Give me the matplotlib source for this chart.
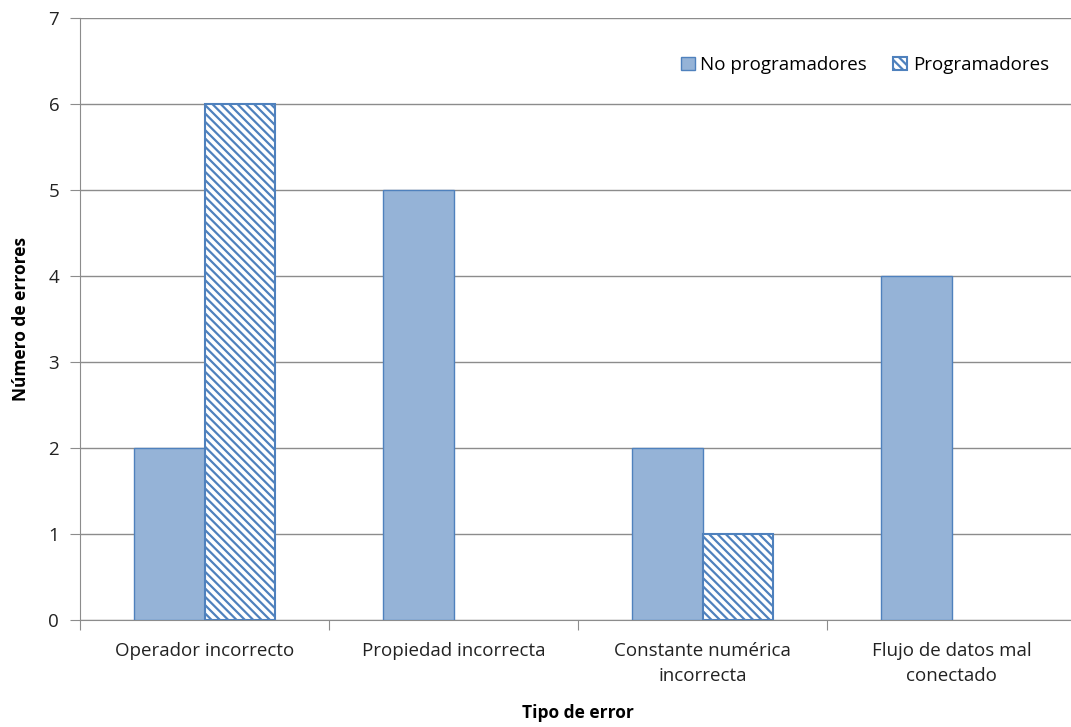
import matplotlib.pyplot as plt
import numpy as np

# error categories and counts per group
categorias = ['Operador incorrecto', 'Propiedad incorrecta',
              'Constante numérica\nincorrecta', 'Flujo de datos mal\nconectado']
no_programadores = [2, 5, 2, 4]
programadores = [6, 0, 1, 0]

plt.rcParams['font.family'] = ['Open Sans', 'DejaVu Sans']
plt.rcParams['hatch.color'] = '#4F81BD'
plt.rcParams['hatch.linewidth'] = 1.6

fig = plt.figure(figsize=(10.71, 7.27), dpi=100)
ax = fig.add_axes([0.0747, 0.1472, 0.93, 0.828])

x = np.arange(len(categorias))
w = 0.283
edge = '#4F81BD'
ax.bar(x - w / 2, no_programadores, w, color='#95B3D7',
       edgecolor=[edge if v else 'none' for v in no_programadores],
       linewidth=1, label='No programadores', zorder=3)
ax.bar(x + w / 2, programadores, w, color='white',
       edgecolor=[edge if v else 'none' for v in programadores],
       linewidth=1.5, hatch='\\\\\\\\', label='Programadores', zorder=3)

ax.set_xlim(-0.5, 3.5)
ax.set_ylim(0, 7)
ax.set_yticks(range(8))
ax.grid(axis='y', color='#8C8C8C', linewidth=1, zorder=0)

# category labels between boundary ticks
ax.set_xticks(np.arange(-0.5, 4, 1))
ax.set_xticklabels([])
ax.set_xticks(x, minor=True)
ax.set_xticklabels(categorias, minor=True, fontsize=13.5, color='#222222',
                   linespacing=1.45)
ax.tick_params(axis='x', which='minor', length=0, pad=16)
ax.tick_params(axis='x', which='major', length=7, color='#8C8C8C', direction='out')
ax.tick_params(axis='y', length=7, color='#8C8C8C', labelsize=13.5,
               labelcolor='#222222', pad=8)

for s in ['top', 'right']:
    ax.spines[s].set_visible(False)
for s in ['left', 'bottom']:
    ax.spines[s].set_color('#8C8C8C')

ax.set_xlabel('Tipo de error', fontsize=12.5, fontweight='bold', labelpad=14)
ax.set_ylabel('Número de errores', fontsize=12.5, fontweight='bold', labelpad=13)

ax.legend(loc='upper right', bbox_to_anchor=(0.99, 0.965), ncol=2, frameon=False,
          fontsize=13.5, handlelength=0.75, handleheight=0.75, handletextpad=0.3,
          columnspacing=1.4)

fig.savefig('out.png', dpi=100)
